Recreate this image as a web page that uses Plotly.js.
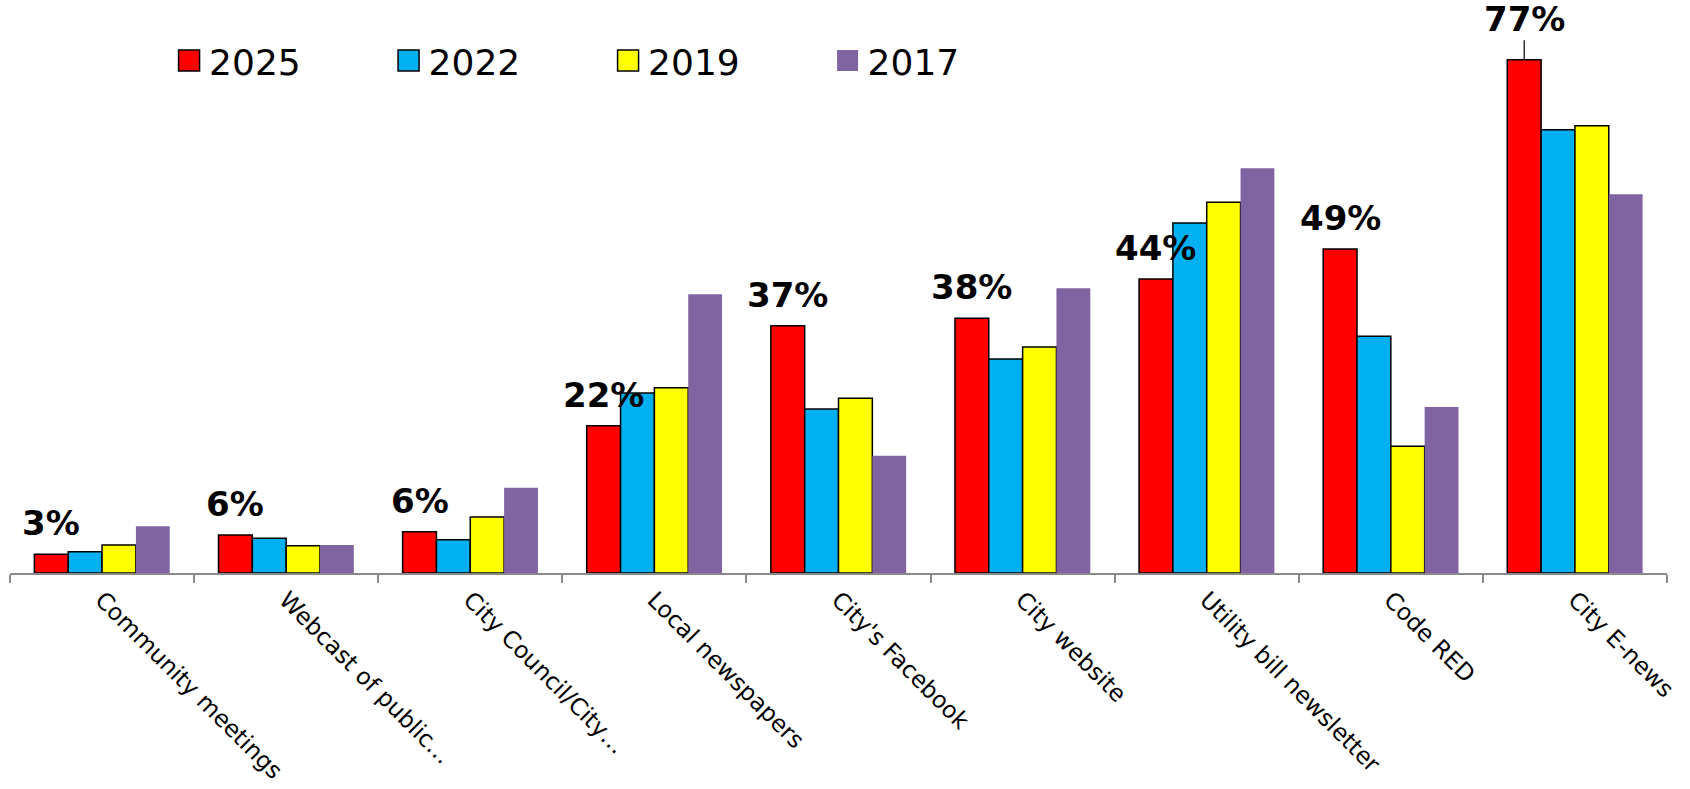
<!DOCTYPE html>
<html>
<head>
<meta charset="utf-8">
<script src="https://cdn.plot.ly/plotly-3.0.1.min.js"></script>
<style>
    html, body { margin: 0; padding: 0; background: #ffffff; }
    #chart { width: 1690px; height: 789px; }
</style>
</head>
<body>
<div id="chart"></div>
<script>
// Survey categories, left to right
const categories = [
    'Community meetings',
    'Webcast of public…',
    'City Council/City…',
    'Local newspapers',
    "City's Facebook",
    'City website',
    'Utility bill newsletter',
    'Code RED',
    'City E-news'
];

// Percent of respondents per survey year
const years = ['2025', '2022', '2019', '2017'];
const values2025 = [2.8, 5.7, 6.2, 22.1, 37.1, 38.2, 44.1, 48.6, 77.0];
const values2022 = [3.2, 5.2, 5.0, 27.0, 24.6, 32.1, 52.5, 35.5, 66.5];
const values2019 = [4.2, 4.1, 8.4, 27.8, 26.2, 33.9, 55.6, 19.0, 67.1];
const values2017 = [7.0, 4.2, 12.8, 41.8, 17.6, 42.7, 60.7, 24.9, 56.8];

const colors = ['#ff0000', '#00b0f0', '#ffff00', '#8064a2'];

const BAR_GAP = 0.265;
const LABEL_FONT = 'DejaVu Sans, Verdana, sans-serif';

function buildTraces() {
    const series = [values2025, values2022, values2019, values2017];
    return series.map((vals, i) => ({
        type: 'bar',
        name: years[i],
        x: categories,
        y: vals,
        marker: {
            color: colors[i],
            // 2017 bars have no black outline
            line: { color: i === 3 ? 'rgba(0,0,0,0)' : '#000000', width: i === 3 ? 0 : 1.5 }
        },
        hoverinfo: 'x+y+name'
    }));
}

function buildAnnotations() {
    // Labels only sit on the 2025 bars, which are the first in each group
    const groupWidth = 1 - BAR_GAP;
    const barWidth = groupWidth / years.length;
    const redOffset = -groupWidth / 2 + barWidth / 2;
    const top = Math.max(...values2025);

    return values2025.map((v, i) => {
        const isTop = v === top;
        const base = {
            x: i + redOffset,
            y: v,
            xref: 'x',
            yref: 'y',
            text: Math.round(v) + '%',
            font: { family: LABEL_FONT, size: 34, color: '#000000', weight: 'bold' }
        };
        if (isTop) {
            // The tallest label is pushed up with a leader line
            return Object.assign(base, {
                showarrow: true,
                arrowhead: 0,
                arrowwidth: 1.2,
                arrowcolor: '#000000',
                ax: 0,
                ay: -41,
                standoff: 0
            });
        }
        return Object.assign(base, {
            showarrow: false,
            yanchor: 'bottom',
            yshift: 9
        });
    });
}

const layout = {
    width: 1690,
    height: 789,
    margin: { t: 10, r: 23, b: 216, l: 10 },
    paper_bgcolor: '#ffffff',
    plot_bgcolor: '#ffffff',
    font: { family: LABEL_FONT, color: '#000000' },
    barmode: 'group',
    bargap: BAR_GAP,
    bargroupgap: 0,
    showlegend: true,
    legend: {
        orientation: 'h',
        x: 0.096,
        xanchor: 'left',
        y: 0.91,
        yanchor: 'middle',
        font: { family: LABEL_FONT, size: 36, color: '#000000' },
        entrywidth: 174.5,
        entrywidthmode: 'pixels',
        bgcolor: 'rgba(0,0,0,0)'
    },
    xaxis: {
        type: 'category',
        showline: true,
        linecolor: '#898989',
        linewidth: 1.5,
        ticks: 'outside',
        tickson: 'boundaries',
        ticklen: 8,
        tickwidth: 1.5,
        tickcolor: '#898989',
        tickangle: 45,
        ticklabelstandoff: 2,
        tickfont: { family: LABEL_FONT, size: 23.5, color: '#000000' },
        showgrid: false,
        zeroline: false,
        fixedrange: true
    },
    yaxis: {
        range: [0, 84.45],
        visible: false,
        showgrid: false,
        zeroline: false,
        fixedrange: true
    },
    annotations: buildAnnotations()
};

// Excel draws bigger legend swatches than Plotly's 12px default
function enlargeSwatches(gd) {
    gd.querySelectorAll('.legendpoints path').forEach(p => {
        p.setAttribute('d', 'M10.5,10.5H-10.5V-10.5H10.5Z');
    });
}

Plotly.newPlot('chart', buildTraces(), layout, { displayModeBar: false, responsive: false }).then(gd => {
    enlargeSwatches(gd);
    gd.on('plotly_afterplot', () => enlargeSwatches(gd));
});
</script>
</body>
</html>
